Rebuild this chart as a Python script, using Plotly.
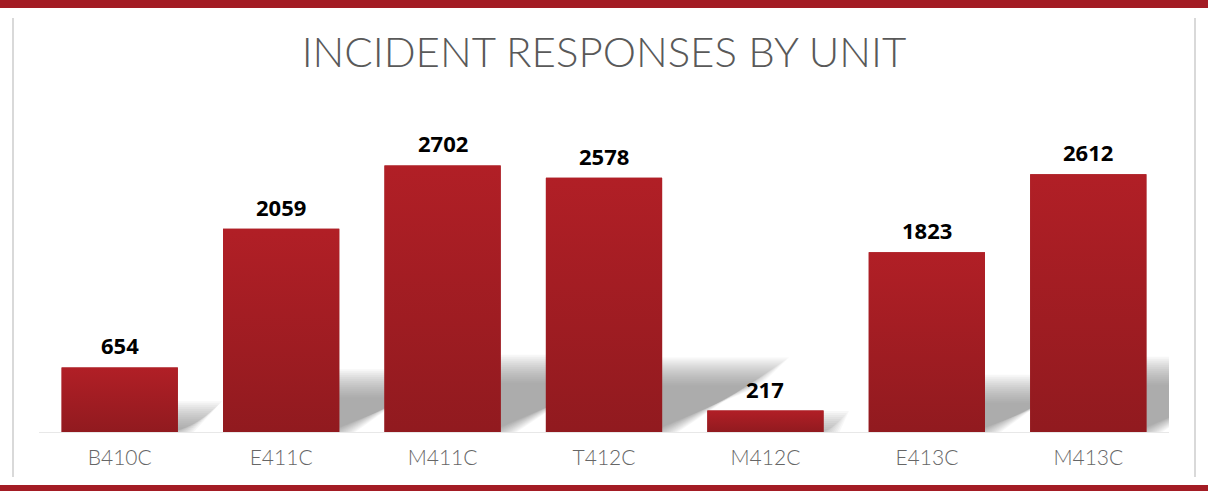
import plotly.graph_objects as go

# ---- data ----
units = ["B410C", "E411C", "M411C", "T412C", "M412C", "E413C", "M413C"]
responses = [654, 2059, 2702, 2578, 217, 1823, 2612]
chart_title = "INCIDENT RESPONSES BY UNIT"

# ---- style ----
W, H = 1208, 491
ML, MR, MT, MB = 39, 39, 136, 59
Y_MAX = 3000
BAR_W = 0.72
RED_TOP = "#B11F26"
RED_BOT = "#911A1F"
FRAME_RED = "#A31C24"

plot_w = W - ML - MR
plot_h = H - MT - MB
px_per_x = plot_w / len(units)
px_per_y = plot_h / Y_MAX


def px_x(px):
    return (px - ML) / plot_w


def px_y(py):
    return (H - MB - py) / plot_h


xs = list(range(len(units)))

fig = go.Figure()

# base bars
fig.add_trace(go.Bar(
    x=xs, y=responses, width=BAR_W,
    marker=dict(color="#A01D22", line=dict(width=0)),
    hoverinfo="skip", showlegend=False,
))

# gradient overlay for each bar
for i, v in enumerate(responses):
    xl, xr = i - BAR_W / 2, i + BAR_W / 2
    fig.add_trace(go.Scatter(
        x=[xl, xr, xr, xl, xl], y=[0, 0, v, v, 0],
        mode="lines", line=dict(width=0), fill="toself",
        fillgradient=dict(type="vertical",
                          colorscale=[[0, RED_BOT], [1, RED_TOP]]),
        hoverinfo="skip", showlegend=False,
    ))

# soft perspective shadows behind bars (layered to imitate blur)
shapes = []
spreads = list(range(-12, 18, 2))
alpha = 1 - 0.38 ** (1 / len(spreads))
for i, v in enumerate(responses):
    xl, xr = i - BAR_W / 2, i + BAR_W / 2
    t = 0.23 * v
    t_px = t * px_per_y
    dx = 1.9 * t_px / px_per_x
    for e in spreads:
        ex = e / px_per_x
        ey = e / px_per_y
        top = max(t + ey, 0)
        path = (f"M {xl},0 L {xr + ex},0 L {xr + dx + ex},{top} "
                f"L {xl + dx},{top} Z")
        shapes.append(dict(type="path", path=path, xref="x", yref="y",
                           fillcolor="rgb(127,127,127)", opacity=alpha,
                           line=dict(width=0), layer="below"))

# frame: red strips top and bottom, light gray side lines
shapes.append(dict(type="rect", xref="paper", yref="paper",
                   x0=px_x(0), x1=px_x(W), y0=px_y(8), y1=px_y(0),
                   fillcolor=FRAME_RED, line=dict(width=0), layer="above"))
shapes.append(dict(type="rect", xref="paper", yref="paper",
                   x0=px_x(0), x1=px_x(W), y0=px_y(H), y1=px_y(485),
                   fillcolor=FRAME_RED, line=dict(width=0), layer="above"))
for sx in (13, 1195):
    shapes.append(dict(type="line", xref="paper", yref="paper",
                       x0=px_x(sx), x1=px_x(sx), y0=px_y(18), y1=px_y(477),
                       line=dict(color="#D9D9D9", width=2)))

# value labels
annotations = []
for i, v in enumerate(responses):
    annotations.append(dict(x=i, y=v, xref="x", yref="y", text=str(v),
                            showarrow=False, yanchor="bottom", yshift=5,
                            font=dict(family="Open Sans", size=22,
                                      color="#000000", weight="bold")))

fig.update_layout(
    width=W, height=H,
    margin=dict(l=ML, r=MR, t=MT, b=MB, pad=0),
    paper_bgcolor="white", plot_bgcolor="white",
    title=dict(text=chart_title, x=0.5, xref="paper", xanchor="center",
               y=1 - 52 / H, yanchor="middle",
               font=dict(family="Lato", size=42, color="#595959", weight=300)),
    xaxis=dict(tickmode="array", tickvals=xs, ticktext=units,
               range=[-0.5, len(units) - 0.5], showgrid=False, zeroline=False,
               showline=True, linecolor="#E8E8E8", linewidth=1,
               ticks="", ticklabelstandoff=7,
               tickfont=dict(family="Lato", size=21, color="#666666",
                             weight=300)),
    yaxis=dict(range=[0, Y_MAX], visible=False, showgrid=False),
    shapes=shapes, annotations=annotations,
    showlegend=False,
)

fig.write_html("out.html",
               config={"displayModeBar": False},
               post_script="document.body.style.margin='0';"
                           "document.body.style.padding='0';"
                           "document.body.style.overflow='hidden';"
                           "document.documentElement.style.overflow='hidden';")
